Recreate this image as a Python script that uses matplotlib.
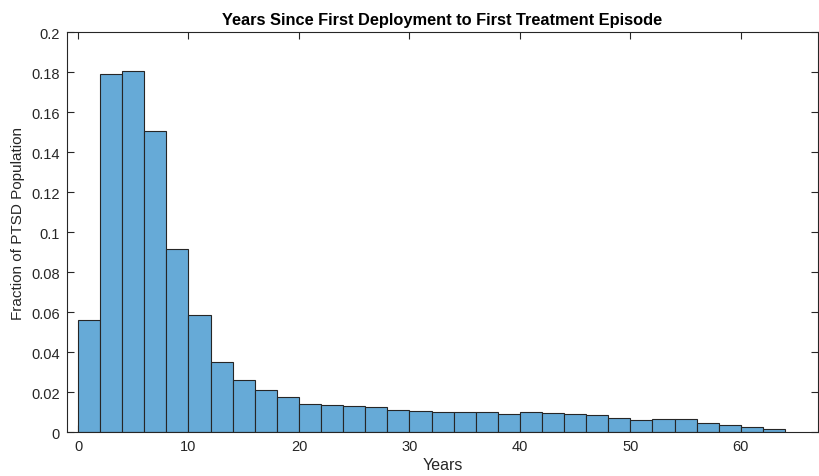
import numpy as np
import matplotlib
matplotlib.use("Agg")
import matplotlib.pyplot as plt

plt.rcParams["font.family"] = ["Liberation Sans", "DejaVu Sans"]

# histogram: bin edges (years) and fraction of PTSD population per bin
bin_edges = list(range(0, 66, 2))
fractions = [0.056, 0.1788, 0.1807, 0.1505, 0.0915, 0.0587, 0.0348, 0.026,
             0.0212, 0.0173, 0.0138, 0.0134, 0.0128, 0.0125, 0.011, 0.0105,
             0.0102, 0.0098, 0.0099, 0.0092, 0.0098, 0.0096, 0.0092, 0.0087,
             0.0070, 0.0060, 0.0065, 0.0065, 0.0045, 0.0037, 0.0024, 0.0016]
x_ticks = [0, 10, 20, 30, 40, 50, 60]
y_ticks = [0, 0.02, 0.04, 0.06, 0.08, 0.1, 0.12, 0.14, 0.16, 0.18, 0.2]

FACE = "#66aad7"
INK = "#262626"

fig = plt.figure(figsize=(8.2, 4.77), dpi=100)
ax = fig.add_axes([0.0817, 0.0922, 0.916, 0.8386])

lefts = np.array(bin_edges[:-1])
widths = np.diff(bin_edges)
ax.bar(lefts, fractions, width=widths, align="edge", color=FACE,
       edgecolor=INK, linewidth=0.8, zorder=2)

ax.set_xlim(-1, 67)
ax.set_ylim(0, 0.2)
ax.set_xticks(x_ticks)
ax.set_yticks(y_ticks)
ax.set_yticklabels(["0" if v == 0 else f"{v:g}" for v in y_ticks])
ax.tick_params(direction="in", top=True, right=True, length=5, width=0.8,
               labelsize=10.5, colors=INK, pad=5)
for sp in ax.spines.values():
    sp.set_color(INK)
    sp.set_linewidth(0.8)

ax.set_xlabel("Years", fontsize=11.5, color=INK, labelpad=3)
ax.set_ylabel("Fraction of PTSD Population", fontsize=11, color=INK)
ax.yaxis.set_label_coords(-0.056, 0.525)
ax.set_title("Years Since First Deployment to First Treatment Episode",
             fontsize=11.8, fontweight="bold", color="black", pad=6)

fig.savefig("out.png", dpi=100)
